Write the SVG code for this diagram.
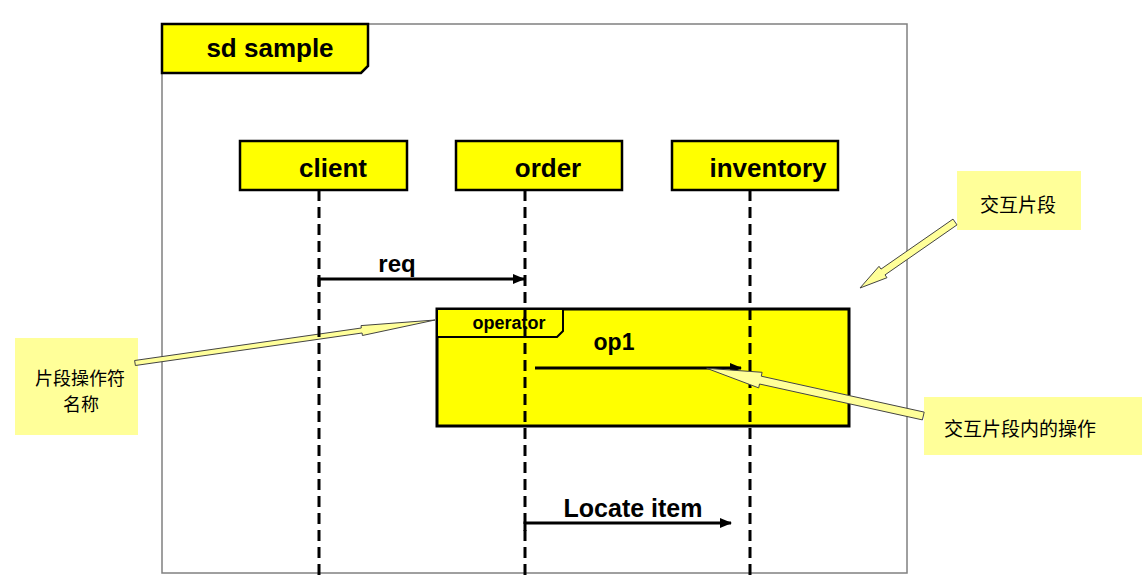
<svg xmlns="http://www.w3.org/2000/svg" width="1145" height="581" viewBox="0 0 1145 581">
<style>
.box{fill:#FFFF00;stroke:#000;stroke-width:2.5}
.lbl{font-family:"Liberation Sans",Arial,sans-serif;font-weight:bold;fill:#000}
.life{stroke:#000;stroke-width:3;stroke-dasharray:11 6;fill:none}
.msg{stroke:#000;stroke-width:3;fill:none}
.note{fill:#FFFF99}
.callout{fill:#FFFF99;stroke:#444;stroke-width:1}
.cjk{font-family:"Noto Sans CJK SC",sans-serif;font-size:19px;fill:#000}
</style>
<defs>
<marker id="ah" markerWidth="12" markerHeight="10" refX="11" refY="5" orient="auto" markerUnits="userSpaceOnUse">
<path d="M0,0 L12,5 L0,10 Z" fill="#000"/>
</marker>
</defs>
<rect width="1145" height="581" fill="#fff"/>
<g id="frame">
<rect x="162" y="24" width="745" height="549" fill="none" stroke="#808080" stroke-width="1.5"/>
<polygon class="box" points="162,24 368,24 368,66 361,73 162,73"/>
<text class="lbl" x="270" y="57" font-size="26" text-anchor="middle">sd sample</text>
</g>
<g id="client">
<rect class="box" x="240" y="141" width="167" height="49"/>
<text class="lbl" x="333" y="177" font-size="26" text-anchor="middle">client</text>
</g>
<g id="order">
<rect class="box" x="456" y="141" width="166" height="49"/>
<text class="lbl" x="548" y="177" font-size="26" text-anchor="middle">order</text>
</g>
<g id="inventory">
<rect class="box" x="672" y="141" width="166" height="49"/>
<text class="lbl" x="768" y="177" font-size="26" text-anchor="middle">inventory</text>
</g>
<g id="fragment">
<rect x="437" y="309" width="412" height="117" fill="#FFFF00" stroke="#000" stroke-width="3"/>
<polygon points="437,309 563,309 563,331 557,337 437,337" fill="#FFFF00" stroke="#000" stroke-width="2"/>
<text class="lbl" x="509" y="329" font-size="18" text-anchor="middle">operator</text>
</g>
<g id="note-fragment">
<rect class="note" x="957" y="171" width="124" height="59"/>
<text class="cjk" x="1018" y="212" text-anchor="middle">交互片段</text>
<polygon class="callout" points="953.0,219.1 881.0,269.1 879.0,266.3 860,288 887.0,277.7 885.0,274.9 957.0,224.9"/>
</g>
<g id="note-operator">
<rect class="note" x="15" y="338" width="123" height="97"/>
<text class="cjk" x="80" y="385" text-anchor="middle" style="font-size:18px">片段操作符</text>
<text class="cjk" x="81" y="411" text-anchor="middle" style="font-size:18px">名称</text>
<polygon class="callout" points="134.6,360.5 361.3,328.0 361.0,325.6 435,320 362.4,335.5 362.1,333.0 135.4,365.5"/>
</g>
<g id="note-operation">
<rect class="note" x="924" y="397" width="218" height="58"/>
<text class="cjk" x="1020" y="436" text-anchor="middle">交互片段内的操作</text>
</g>
<g id="connectors">
<line class="life" x1="319" y1="190" x2="319" y2="581"/>
<line class="life" x1="525" y1="190" x2="525" y2="581"/>
<line class="life" x1="750" y1="190" x2="750" y2="581"/>
<path class="msg" d="M319,287 V279 H524" marker-end="url(#ah)"/>
<text class="lbl" x="397" y="272" font-size="24" text-anchor="middle">req</text>
<path class="msg" d="M535,368 H741" marker-end="url(#ah)"/>
<text class="lbl" x="614" y="350" font-size="23" text-anchor="middle">op1</text>
<polygon class="callout" points="924.2,412.1 761.3,376.2 762.1,372.3 706.7,368.3 758.7,387.9 759.5,384.0 922.4,419.9"/>
<path class="msg" d="M525,531 V523 H731" marker-end="url(#ah)"/>
<text class="lbl" x="633" y="517" font-size="25" text-anchor="middle">Locate item</text>
</g>
</svg>
